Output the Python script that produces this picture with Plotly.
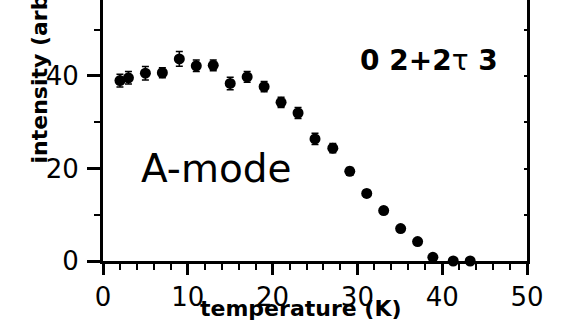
import plotly.graph_objects as go

temperature = [2, 3, 5, 7, 9, 11, 13, 15, 17, 19, 21, 23, 25, 27.1, 29.1, 31.1, 33.1, 35.1, 37.1, 38.9, 41.3, 43.3]
intensity = [39.0, 39.6, 40.6, 40.7, 43.7, 42.2, 42.3, 38.4, 39.8, 37.7, 34.3, 32.0, 26.4, 24.4, 19.4, 14.6, 10.9, 7.0, 4.2, 0.8, 0.0, 0.0]
error = [1.4, 1.35, 1.45, 1.1, 1.6, 1.25, 1.15, 1.35, 1.15, 1.1, 1.1, 1.2, 1.2, 1.0, 0.8, 0.7, 0.7, 0.6, 0.6, 0.6, 0.5, 0.5]

x_ticks = [0, 10, 20, 30, 40, 50]
y_ticks = [0, 20, 40]
x_range = [0, 50]
y_range = [0, 56.43]

FONT = "DejaVu Sans"
W, H = 562, 323
ML, MR, MT, MB = 103, 35, 0, 62
PW = W - ML - MR
PH = H - MT - MB


def px_x(p):
    return (p - ML) / PW


def px_y(p):
    return (H - MB - p) / PH


fig = go.Figure()
fig.add_trace(go.Scatter(
    x=temperature, y=intensity, mode="markers",
    marker=dict(color="black", size=11, symbol="circle"),
    error_y=dict(type="data", array=error, visible=True, color="black", thickness=1.5, width=3.5),
    cliponaxis=False, showlegend=False,
))
fig.add_trace(go.Scatter(x=[None], y=[None], yaxis="y2", showlegend=False, hoverinfo="skip"))

fig.update_layout(
    width=W, height=H,
    margin=dict(l=ML, r=MR, t=MT, b=MB, pad=0),
    paper_bgcolor="white", plot_bgcolor="white",
    font=dict(family=FONT, color="black", size=26),
    xaxis=dict(
        range=x_range, tickvals=x_ticks, ticktext=[str(v) for v in x_ticks],
        showgrid=False, zeroline=False, showline=True, linecolor="black", linewidth=3,
        ticks="outside", ticklen=11, tickwidth=2.5, tickcolor="black",
        minor=dict(dtick=2, ticks="outside", ticklen=6, tickwidth=2, tickcolor="black", showgrid=False),
        tickfont=dict(family=FONT, size=26, color="black"),
        ticklabelstandoff=0,
    ),
    yaxis=dict(
        range=y_range, tickvals=y_ticks, ticktext=[str(v) for v in y_ticks],
        showgrid=False, zeroline=False, showline=True, linecolor="black", linewidth=3,
        ticks="outside", ticklen=13, tickwidth=2.5, tickcolor="black",
        minor=dict(dtick=10, ticks="outside", ticklen=6, tickwidth=2, tickcolor="black", showgrid=False),
        tickfont=dict(family=FONT, size=26, color="black"),
        ticklabelstandoff=3,
    ),
    yaxis2=dict(
        range=y_range, overlaying="y", side="right",
        showgrid=False, zeroline=False, showline=True, linecolor="black", linewidth=3,
        ticks="inside", ticklen=3, tickwidth=1.5, tickcolor="black", dtick=10, tick0=0,
        showticklabels=False,
    ),
)

annotations = [
    dict(text="<b>temperature (K)</b>", x=px_x(300.5), y=px_y(308), xanchor="center", yanchor="middle",
         font=dict(family=FONT, size=22, color="black")),
    dict(text="<b>intensity (arb. units)</b>", x=px_x(38.5), y=px_y(166), xanchor="center", yanchor="bottom",
         textangle=-90, font=dict(family=FONT, size=22, color="black")),
    dict(text="<b>0 2+2</b>τ<b> 3</b>", x=px_x(429), y=px_y(60.5), xanchor="center", yanchor="middle",
         font=dict(family=FONT, size=28, color="black")),
    dict(text="A-mode", x=px_x(216.5), y=px_y(168), xanchor="center", yanchor="middle",
         font=dict(family=FONT, size=39, color="black")),
]
for a in annotations:
    a.update(xref="paper", yref="paper", showarrow=False)
fig.update_layout(annotations=annotations)

fig.write_html("out.html")
